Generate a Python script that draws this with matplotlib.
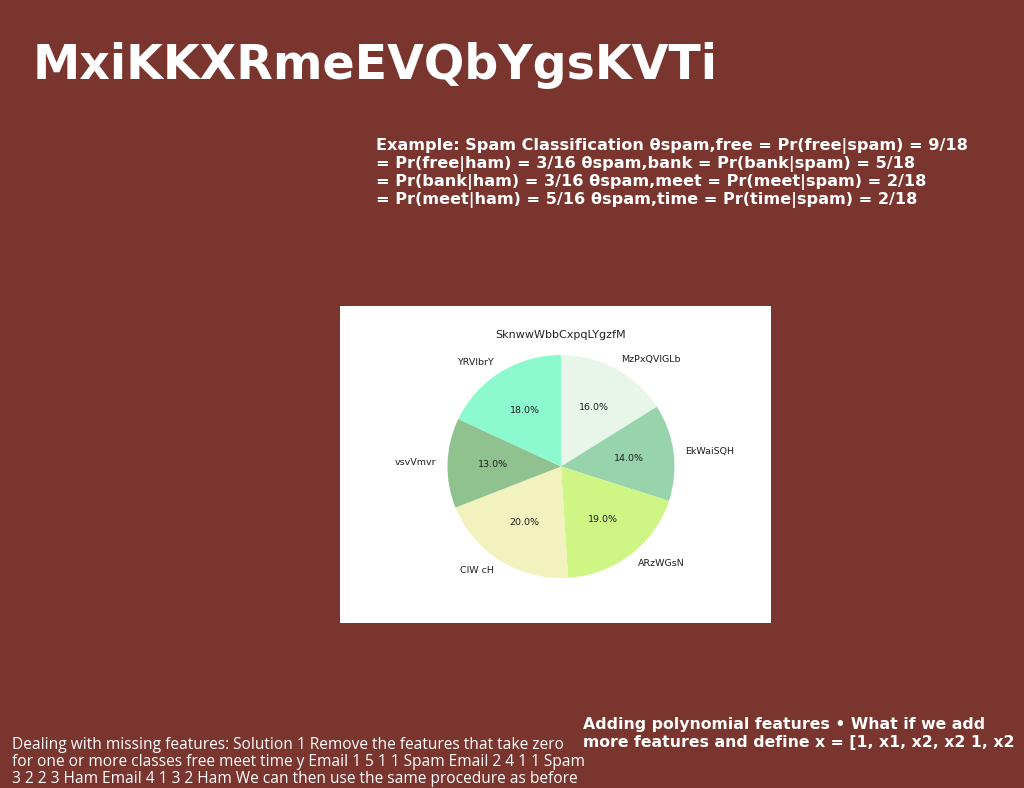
import os
import matplotlib
matplotlib.use("Agg")
import matplotlib.pyplot as plt
from matplotlib.font_manager import FontProperties

W, H = 1024, 788
BG = "#7b352f"

# slide texts
title_text = "MxiKKXRmeEVQbYgsKVTi"
top_lines = [
    "Example: Spam Classification θspam,free = Pr(free|spam) = 9/18",
    "= Pr(free|ham) = 3/16 θspam,bank = Pr(bank|spam) = 5/18",
    "= Pr(bank|ham) = 3/16 θspam,meet = Pr(meet|spam) = 2/18",
    "= Pr(meet|ham) = 5/16 θspam,time = Pr(time|spam) = 2/18",
]
right_lines = [
    "Adding polynomial features • What if we add",
    "more features and define x = [1, x1, x2, x2 1, x2",
]
left_lines = [
    "Dealing with missing features: Solution 1 Remove the features that take zero",
    "for one or more classes free meet time y Email 1 5 1 1 Spam Email 2 4 1 1 Spam",
    "3 2 2 3 Ham Email 4 1 3 2 Ham We can then use the same procedure as before",
]

# pie data
pie_title = "SknwwWbbCxpqLYgzfM"
labels = ["MzPxQVlGLb", "EkWaiSQH", "ARzWGsN", "ClW cH", "vsvVmvr", "YRVlbrY"]
shares = [16, 14, 19, 20, 13, 18]
colors = ["#e8f6e9", "#98d4ab", "#cff585", "#f1f2bd", "#8fc28f", "#8cface"]

# use matplotlib's own DejaVu files so no condensed variant gets picked
ttf_dir = os.path.join(matplotlib.get_data_path(), "fonts", "ttf")
BOLD = os.path.join(ttf_dir, "DejaVuSans-Bold.ttf")
REG = os.path.join(ttf_dir, "DejaVuSans.ttf")

fig = plt.figure(figsize=(W / 100, H / 100), dpi=100, facecolor=BG)
renderer = fig.canvas.get_renderer()


def px(x, y):
    # pixel coords (top-left origin) -> figure fraction
    return x / W, 1 - y / H


def fp(size, fname=None, family=None):
    if fname:
        return FontProperties(fname=fname, size=size)
    return FontProperties(family=family, size=size)


def fit_size(s, target_w, size, **kw):
    t = fig.text(0, 0, s, fontproperties=fp(size, **kw))
    w = t.get_window_extent(renderer).width
    t.remove()
    return size * target_w / w


def block(x, y, lines, step, size, **kw):
    for i, line in enumerate(lines):
        fig.text(*px(x, y + step * i), line, fontproperties=fp(size, **kw),
                 color="white", va="baseline")


sz = fit_size(title_text, 687, 34, fname=BOLD)
block(33, 79, [title_text], 0, sz, fname=BOLD)

sz = fit_size(top_lines[0], 594, 10.5, fname=BOLD)
block(376, 150, top_lines, 18, sz, fname=BOLD)

sz = fit_size(right_lines[0], 399, 11, fname=BOLD)
block(583, 729, right_lines, 18, sz, fname=BOLD)

sz = fit_size(left_lines[1], 573, 11, family="Open Sans")
block(12, 749, left_lines, 17, sz, family="Open Sans")

# white inset panel for the pie
x0, x1, y0, y1 = 340, 771, 306, 623
panel = fig.add_axes([x0 / W, 1 - y1 / H, (x1 - x0) / W, (y1 - y0) / H])
panel.set_facecolor("white")
panel.set_xticks([])
panel.set_yticks([])
for s in panel.spines.values():
    s.set_visible(False)

fig.text(*px(561, 335), pie_title, fontproperties=fp(8, fname=REG),
         ha="center", va="center", color="#222222")

cx, cy, rx, ry = 561, 466.5, 113.5, 111.5
ax = fig.add_axes([(cx - 1.25 * rx) / W, 1 - (cy + 1.25 * ry) / H,
                   2.5 * rx / W, 2.5 * ry / H])
wedges, texts, autotexts = ax.pie(
    shares, labels=labels, colors=colors, autopct="%1.1f%%",
    startangle=90, counterclock=False, pctdistance=0.6, labeldistance=1.1,
    textprops={"fontproperties": fp(6.8, fname=REG), "color": "#1e1e1e"},
)
ax.set_aspect("auto")
ax.set_xlim(-1.25, 1.25)
ax.set_ylim(-1.25, 1.25)

fig.savefig("out.png", dpi=100, facecolor=BG)
